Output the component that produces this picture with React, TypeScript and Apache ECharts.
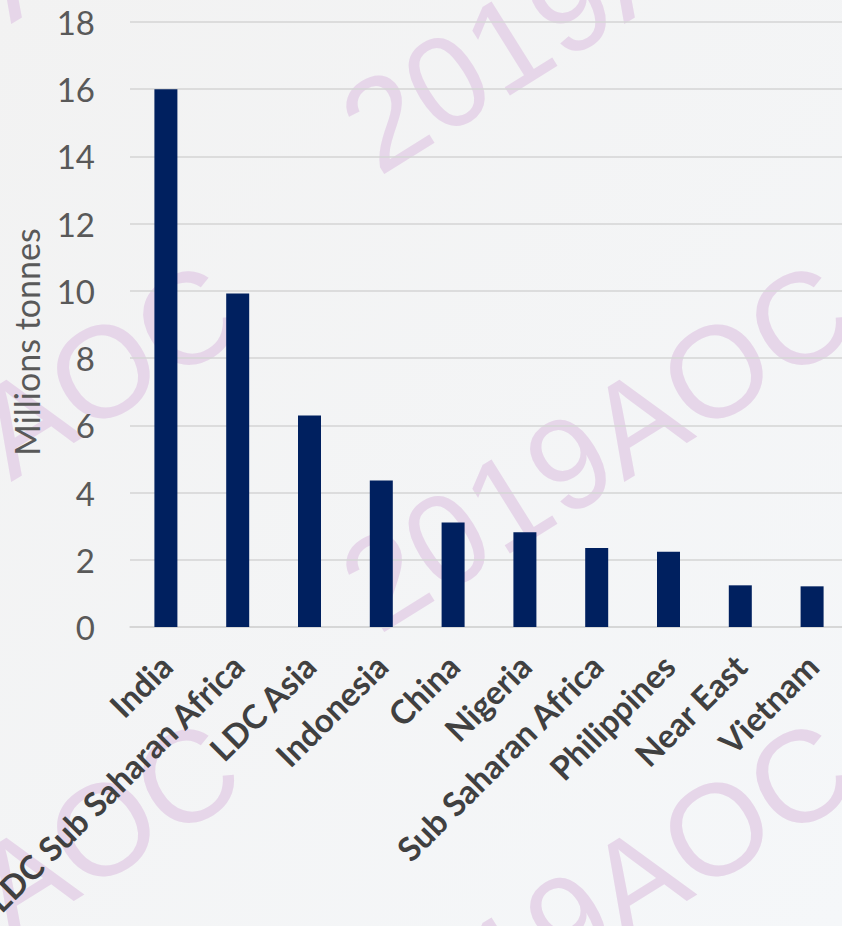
import React, { useEffect, useRef } from "react";
import * as echarts from "echarts";

const categories = [
  "India",
  "LDC Sub Saharan Africa",
  "LDC Asia",
  "Indonesia",
  "China",
  "Nigeria",
  "Sub Saharan Africa",
  "Philippines",
  "Near East",
  "Vietnam",
];
const values = [16.0, 9.92, 6.29, 4.36, 3.11, 2.82, 2.35, 2.24, 1.24, 1.21];
const yAxisTitle = "Millions tonnes";
const watermarkText = "2019AOC";

export default function App() {
  const ref = useRef<HTMLDivElement>(null);

  useEffect(() => {
    if (!ref.current) return;
    const chart = echarts.init(ref.current, undefined, { renderer: "svg" });

    const wmCenters = [
      [597, 446],
      [597, -12],
      [597, 904],
      [-16, 446],
      [-16, 904],
      [-16, -12],
    ];
    const watermarks = wmCenters.map(([x, y]) => ({
      type: "text",
      x,
      y,
      rotation: (32 * Math.PI) / 180,
      z: -10,
      silent: true,
      style: {
        text: watermarkText,
        fontSize: 130,
        fontFamily: "Liberation Sans",
        fill: "#e6d6e9",
        textAlign: "center",
        textVerticalAlign: "middle",
        align: "center",
        verticalAlign: "middle",
      },
    }));

    chart.setOption({
      animation: false,
      backgroundColor: "#f3f3f3",
      graphic: {
        elements: [
          {
            type: "rect",
            z: -20,
            silent: true,
            shape: { x: 0, y: 0, width: 842, height: 926 },
            style: {
              fill: new echarts.graphic.LinearGradient(0, 0, 1, 1, [
                { offset: 0, color: "#f2f2f2" },
                { offset: 1, color: "#f5f7f9" },
              ]),
            },
          },
          ...watermarks,
          {
            type: "text",
            x: 26,
            y: 342,
            rotation: Math.PI / 2,
            style: {
              text: yAxisTitle,
              fontSize: 34,
              fontFamily: "Lato",
              fill: "#595959",
              textAlign: "center",
              textVerticalAlign: "middle",
              align: "center",
              verticalAlign: "middle",
            },
          },
        ],
      },
      grid: {
        left: 130,
        top: 22,
        width: 718,
        height: 605,
        containLabel: false,
        outerBoundsMode: "none",
      },
      xAxis: {
        type: "category",
        data: categories,
        axisLine: { lineStyle: { color: "#d4d4d4", width: 1.5 } },
        axisTick: { show: false },
        axisLabel: {
          rotate: 45,
          interval: 0,
          margin: 33,
          color: "#404040",
          fontSize: 33,
          fontFamily: "Lato",
          fontWeight: "bold",
        },
      },
      yAxis: {
        type: "value",
        min: 0,
        max: 18,
        interval: 2,
        axisLine: { show: false },
        axisTick: { show: false },
        splitLine: { lineStyle: { color: "#d4d4d4", width: 1.5 } },
        axisLabel: {
          margin: 35,
          color: "#595959",
          fontSize: 33,
          fontFamily: "Lato",
        },
      },
      series: [
        {
          type: "bar",
          data: values,
          barWidth: 23,
          itemStyle: { color: "#00205f" },
        },
      ],
    });

    return () => chart.dispose();
  }, []);

  return (
    <div
      ref={ref}
      style={{ position: "fixed", left: 0, top: 0, width: 842, height: 926 }}
    />
  );
}
